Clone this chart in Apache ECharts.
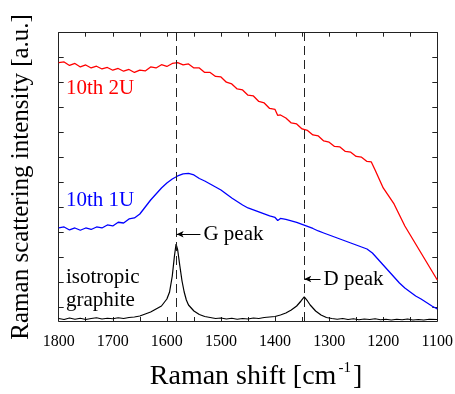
<!DOCTYPE html>
<html>
<head>
<meta charset="utf-8">
<script src="https://cdn.jsdelivr.net/npm/echarts@6/dist/echarts.min.js"></script>
<style>
html,body{margin:0;padding:0;background:#fff;}
#chart{width:455px;height:394px;}
</style>
</head>
<body>
<div id="chart"></div>
<script>
// ---- data (Raman shift in cm^-1, intensity in arbitrary units with vertical offsets) ----
const xTicks = [1100, 1200, 1300, 1400, 1500, 1600, 1700, 1800];
const yTickValues = [0.54, 1.54, 2.54, 3.54, 4.54, 5.54, 6.54, 7.54, 8.54, 9.54, 10.54];

const redShift = [1800,1790,1780,1770,1760,1750,1740,1730,1720,1710,1700,1690,1680,1670,1660,1650,1640,1630,1620,1610,1600,1590,1580,1570,1560,1550,1540,1530,1520,1510,1500,1490,1480,1470,1460,1450,1440,1430,1420,1410,1400,1395,1390,1380,1370,1360,1350,1340,1330,1320,1310,1300,1290,1280,1270,1260,1250,1240,1230,1222,1215,1210,1200,1190,1180,1170,1160,1150,1140,1130,1120,1110,1100];
const redIntensity = [10.33,10.36,10.22,10.30,10.16,10.24,10.12,10.19,10.08,10.14,10.03,10.10,9.99,10.06,9.94,10.03,10.00,10.16,10.12,10.25,10.18,10.30,10.33,10.24,10.28,10.12,10.12,9.94,9.94,9.78,9.76,9.55,9.48,9.28,9.24,9.03,9.00,8.78,8.72,8.50,8.46,8.22,8.24,8.12,7.92,7.88,7.68,7.62,7.44,7.40,7.20,7.15,6.98,6.96,6.78,6.75,6.58,6.55,6.38,6.36,6.04,5.80,5.32,5.00,4.68,4.24,3.80,3.44,3.08,2.72,2.36,2.00,1.64];

const blueShift = [1800,1790,1780,1770,1760,1750,1740,1730,1720,1710,1700,1690,1680,1670,1660,1650,1640,1630,1620,1610,1600,1590,1580,1570,1560,1550,1540,1530,1520,1510,1500,1490,1480,1470,1460,1450,1440,1430,1420,1410,1400,1395,1390,1380,1370,1360,1350,1340,1330,1320,1310,1300,1290,1280,1270,1260,1250,1240,1230,1220,1210,1200,1190,1180,1170,1160,1150,1140,1130,1120,1110,1100];
const blueIntensity = [3.72,3.76,3.64,3.72,3.63,3.72,3.66,3.76,3.72,3.84,3.80,3.95,3.92,4.08,4.12,4.28,4.56,4.84,5.08,5.32,5.52,5.68,5.80,5.88,5.90,5.84,5.70,5.60,5.48,5.36,5.24,5.08,4.92,4.78,4.64,4.52,4.44,4.36,4.28,4.20,4.14,4.02,4.10,4.06,4.00,3.94,3.86,3.78,3.70,3.60,3.52,3.44,3.36,3.28,3.20,3.12,3.04,2.96,2.88,2.72,2.48,2.24,2.00,1.76,1.52,1.32,1.16,1.00,0.88,0.74,0.60,0.48];

const blackShift = [1800,1790,1780,1770,1760,1750,1740,1730,1720,1710,1700,1690,1680,1670,1660,1650,1640,1630,1620,1610,1600,1595,1590,1586,1583,1580,1576,1572,1568,1564,1560,1550,1540,1530,1520,1510,1500,1490,1480,1470,1460,1450,1440,1430,1420,1410,1400,1390,1380,1370,1360,1352,1346,1340,1335,1325,1315,1305,1295,1285,1275,1265,1255,1245,1235,1225,1215,1205,1195,1185,1175,1165,1155,1145,1135,1125,1115,1100];
const blackIntensity = [0.10,0.06,0.12,0.07,0.11,0.06,0.10,0.13,0.08,0.11,0.09,0.13,0.10,0.14,0.16,0.20,0.28,0.36,0.48,0.60,0.88,1.16,1.80,2.60,3.08,2.84,2.20,1.60,1.16,0.84,0.64,0.40,0.26,0.18,0.14,0.10,0.12,0.08,0.11,0.07,0.10,0.08,0.12,0.10,0.14,0.16,0.18,0.24,0.32,0.44,0.60,0.80,0.96,0.80,0.64,0.40,0.24,0.14,0.10,0.07,0.10,0.06,0.09,0.05,0.08,0.06,0.09,0.05,0.07,0.04,0.07,0.05,0.08,0.04,0.06,0.04,0.07,0.06];

const peakPositions = [1582, 1346];
const peakNames = ['G peak', 'D peak'];
const peakArrowLevel = [3.47, 1.68];
const peakArrowEnd = [1538, 1316];

const seriesNames = ['10th 2U', '10th 1U', 'isotropic graphite'];

// ---- chart ----
const pairs = (xs, ys) => xs.map((x, i) => [x, ys[i]]);
const FONT = '"Liberation Serif", "Times New Roman", serif';
const lineCol = '#222';

const chart = echarts.init(document.getElementById('chart'), null, {renderer: 'canvas'});

function xAxisCfg(pos, showLabel, name) {
  return {
    type: 'value', position: pos, inverse: true, min: 1100, max: 1800, interval: 100,
    axisLine: {show: true, onZero: false, lineStyle: {color: lineCol, width: 1}},
    axisTick: {show: true, inside: true, length: 4, lineStyle: {color: lineCol}},
    minorTick: {show: true, splitNumber: 2, length: 4, lineStyle: {color: lineCol}},
    splitLine: {show: false}, minorSplitLine: {show: false},
    axisLabel: {show: showLabel, fontFamily: FONT, fontSize: 16, color: '#000', margin: 13,
      formatter: v => String(v)},
    name: name || '', nameLocation: 'middle', nameGap: 40,
    nameTextStyle: {
      fontFamily: FONT, fontSize: 28, color: '#000', padding: [0, 0, 0, 16],
      rich: {sup: {fontFamily: FONT, fontSize: 15, color: '#000', padding: [0, 2, 17, 2]}}
    }
  };
}
function yAxisCfg(pos, name) {
  return {
    type: 'value', position: pos, min: 0, max: 11.53,
    axisLine: {show: true, onZero: false, lineStyle: {color: lineCol, width: 1}},
    axisTick: {show: true, inside: true, length: 5, customValues: yTickValues, lineStyle: {color: lineCol}},
    axisLabel: {show: false},
    splitLine: {show: false},
    name: name || '', nameLocation: 'middle', nameGap: 25, nameRotate: 90,
    nameTextStyle: {fontFamily: FONT, fontSize: 25, color: '#000', padding: [0, 0, 0, 0]}
  };
}

const option = {
  backgroundColor: '#fff',
  animation: false,
  grid: {left: 58.7, right: 17.7, top: 32.7, bottom: 73, containLabel: false, outerBoundsMode: 'none'},
  xAxis: [xAxisCfg('bottom', true, 'Raman shift [cm{sup|-1}]'), xAxisCfg('top', false)],
  yAxis: [yAxisCfg('left', 'Raman scattering intensity [a.u.]'), yAxisCfg('right')],
  series: [
    {
      name: seriesNames[0], type: 'line', xAxisIndex: 0, yAxisIndex: 0, showSymbol: false,
      data: pairs(redShift, redIntensity), lineStyle: {color: '#ff0000', width: 1.3}, z: 3
    },
    {
      name: seriesNames[1], type: 'line', xAxisIndex: 0, yAxisIndex: 0, showSymbol: false,
      data: pairs(blueShift, blueIntensity), lineStyle: {color: '#0000ff', width: 1.3}, z: 3
    },
    {
      name: seriesNames[2], type: 'line', xAxisIndex: 0, yAxisIndex: 0, showSymbol: false,
      data: pairs(blackShift, blackIntensity), lineStyle: {color: '#000', width: 1.2}, z: 3,
      markLine: {
        silent: true, symbol: ['none', 'none'],
        lineStyle: {color: '#222', type: [9, 5], width: 1},
        label: {show: false},
        data: peakPositions.map(p => ({xAxis: p}))
      }
    },
    {
      type: 'line', xAxisIndex: 0, yAxisIndex: 0, data: [], silent: true,
      markLine: {
        silent: true, symbol: ['arrow', 'none'], symbolSize: [5, 7],
        lineStyle: {color: '#000', type: 'solid', width: 1},
        label: {show: true, position: 'end', distance: 3, fontFamily: FONT, fontSize: 21, color: '#000', formatter: p => p.name},
        data: peakPositions.map((p, i) => [
          {coord: [p, peakArrowLevel[i]], name: peakNames[i]},
          {coord: [peakArrowEnd[i], peakArrowLevel[i]]}
        ])
      }
    }
  ],
  graphic: [
    {type: 'text', left: 66, top: 78, style: {text: seriesNames[0], font: '21px ' + FONT, fill: '#ff0000'}},
    {type: 'text', left: 66, top: 190, style: {text: seriesNames[1], font: '21px ' + FONT, fill: '#0000ff'}},
    {type: 'text', left: 66, top: 266, style: {text: 'isotropic\ngraphite', font: '21px ' + FONT, fill: '#000', lineHeight: 23}}
  ]
};
chart.setOption(option);
</script>
</body>
</html>
